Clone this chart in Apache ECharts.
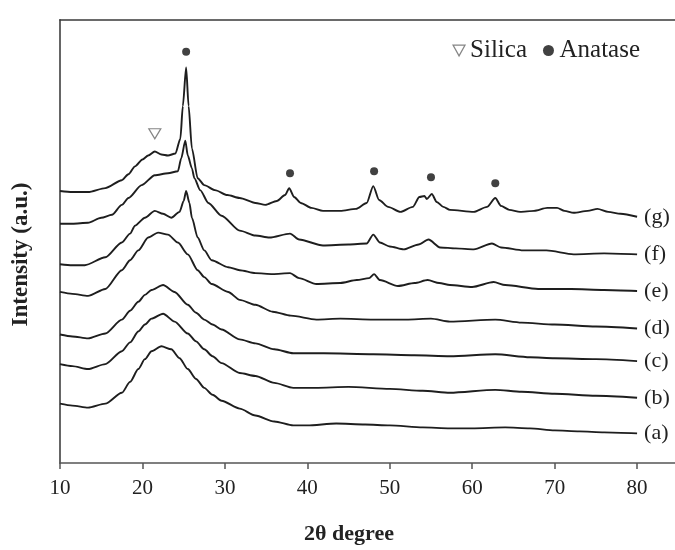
<!DOCTYPE html>
<html>
<head>
<meta charset="utf-8">
<script src="https://cdn.jsdelivr.net/npm/echarts@6/dist/echarts.min.js"></script>
<style>
html,body{margin:0;padding:0;background:#fff;overflow:hidden;}
#chart{width:675px;height:550px;}
</style>
</head>
<body>
<div id="chart"></div>
<script>
// 2θ (degree) vs intensity (a.u.)
const curveA = [[10,60],[11.5,58],[13.4,56],[15.5,60],[17.5,71],[18.5,82],[19.5,95],[20.3,105],[21.1,113],[22.3,118],[23.5,115],[24.5,106],[25.5,95],[26.5,85],[27.5,76],[28.5,69],[29.6,63],[31.8,55],[33.7,48],[36,42],[38.3,38],[40,38],[43.5,40],[47,39],[50,38],[54,36],[57.3,35],[60,35],[64,36],[67,35],[70,33],[73,32],[76,31],[80,30]];
const curveB = [[10,100],[11.5,98],[13.4,95],[15.5,100],[17.5,113],[18.5,122],[19.5,133],[20.3,140],[21.1,146],[22.5,151],[23.9,143],[25.5,131],[26.5,123],[27.5,115],[28.5,108],[29.6,101],[31.8,91],[33.7,88],[36,81],[38.3,76],[41,76],[45,77],[50,75],[54,73],[57.3,71],[62.8,74],[66,72],[70,70],[75,68],[80,66]];
const curveC = [[10,130],[11.5,128],[13.4,126],[15.5,131],[17.5,145],[18.5,154],[19.5,163],[20.3,170],[21.1,175],[22.5,180],[23.9,173],[25.5,160],[26.5,152],[27.5,145],[28.5,140],[29.6,135],[31.8,125],[33.7,121],[36,115],[38.3,111],[42,111],[48,110],[53,109],[57.3,108],[62.8,110],[67,107],[70,106],[75,105],[80,103]];
const curveD = [[10,173],[11.5,171],[13.4,169],[15.5,176],[17.5,195],[18.5,205],[19.5,215],[20.7,228],[21.9,233],[23.1,231],[24.3,223],[25.5,211],[26.7,195],[27.5,188],[28.4,181],[30.4,173],[31.8,165],[33.7,160],[35.8,153],[38,149],[41.1,145],[44,146],[48,145],[52,145],[55,146],[57.3,143],[62.8,145],[66,142],[70,140],[75,138],[80,136]];
const curveE = [[10,201],[11.5,200],[13,200],[15.5,208],[17.5,223],[18.5,232],[19.1,240],[20.3,248],[21.5,255],[22.5,252],[23.5,248],[24.5,254],[25,265],[25.3,275],[25.7,263],[26,248],[26.7,228],[27.5,215],[28.4,205],[30.4,198],[31.8,195],[33.7,192],[35.8,191],[37.9,192],[39,187],[41.1,181],[44,182],[46,185],[47.5,187],[48.1,191],[48.8,185],[51,179],[53,182],[54.6,185],[56,182],[57.3,180],[60,178],[62.6,183],[64,180],[68,176],[72,176],[76,175],[80,174]];
const curveF = [[10,242],[11.5,242],[13.4,243],[15,248],[16.3,251],[17.5,261],[18.3,268],[19.9,281],[21.5,291],[23.1,293],[24.3,295],[24.7,308],[25.2,326],[25.5,311],[26,298],[26.3,288],[27,276],[28,263],[29.6,250],[31.8,235],[33.7,230],[35.4,228],[37.9,232],[39,226],[41.9,220],[45,221],[47.2,222],[48,231],[48.8,223],[50,219],[51.7,216],[53.5,221],[54.7,226],[56.1,218],[58,217],[60.2,216],[62.4,222],[63.5,218],[66.2,215],[69,215],[72.3,211],[76,212],[80,211]];
const curveG = [[10,275],[11.5,274],[13.4,274],[15.5,278],[17.5,286],[18.3,292],[19.1,300],[20,307],[20.7,311],[21.5,315],[22.3,312],[23.1,311],[24,313],[24.6,328],[24.9,361],[25.3,400],[25.6,361],[26,318],[26.7,288],[27.5,281],[28.8,276],[30.3,271],[31.8,268],[33.7,263],[34.9,261],[36.3,265],[37.3,271],[37.8,278],[38.4,269],[39.2,263],[40.5,258],[41.9,255],[44,255],[45.9,257],[47.2,263],[48,280],[48.7,266],[49.8,259],[51.3,254],[52.8,259],[53.6,269],[54.2,270],[54.5,267],[55.1,272],[55.7,264],[56.5,259],[57.3,256],[60.2,254],[61.8,259],[62.8,268],[63.5,260],[64.5,256],[65.8,254],[67.5,255],[69.1,258],[70.3,258],[71.2,255],[72.3,253],[74,255],[75.2,257],[76.5,254],[78,252],[80,249]];
const curveNames = ['(a)','(b)','(c)','(d)','(e)','(f)','(g)'];
const silicaMarks = [[21.5,333]];
const anataseMarks = [[25.3,416],[37.9,293],[48.1,295],[55.0,289],[62.8,283]];
const xTicks = [10,20,30,40,50,60,70,80];

const curves = [curveA, curveB, curveC, curveD, curveE, curveF, curveG];
const serif = '"Liberation Serif","DejaVu Serif",serif';

const lineSeries = curves.map((c, i) => ({
  type: 'line',
  name: curveNames[i],
  data: c,
  showSymbol: false,
  symbol: 'none',
  smooth: 0.25,
  smoothMonotone: 'x',
  lineStyle: { color: '#1e1e1e', width: 1.9 },
  silent: true,
  z: 2,
  endLabel: {
    show: true,
    formatter: curveNames[i],
    distance: 7,
    fontFamily: serif,
    fontSize: 22,
    color: '#222'
  }
}));

const chart = echarts.init(document.getElementById('chart'), null, { renderer: 'canvas' });
chart.setOption({
  animation: false,
  backgroundColor: '#fff',
  grid: { left: 60, right: 0, top: 20, bottom: 82 },
  legend: {
    right: 30, top: 33,
    itemGap: 16, itemWidth: 12, itemHeight: 11,
    textStyle: { fontFamily: serif, fontSize: 25, color: '#222' },
    data: [
      { name: 'Silica', icon: 'path://M0,0 L10,0 L5,9 Z', itemStyle: { color: '#fff', borderColor: '#666', borderWidth: 1.2 } },
      { name: 'Anatase', icon: 'circle', itemStyle: { color: '#111' } }
    ]
  },
  xAxis: [
    {
      type: 'value', min: 10, max: 84.6, interval: 10,
      name: '2θ degree', nameLocation: 'middle', nameGap: 60,
      nameTextStyle: { fontFamily: serif, fontSize: 22, fontWeight: 'bold', color: '#222', padding: [0, 37, 0, 0] },
      axisLine: { show: true, lineStyle: { color: '#555', width: 1.5 } },
      axisTick: { show: true, inside: false, length: 6, customValues: xTicks, lineStyle: { color: '#555', width: 1.5 } },
      axisLabel: {
        margin: 15, fontFamily: serif, fontSize: 21, color: '#222', customValues: xTicks,
        formatter: v => (xTicks.indexOf(v) >= 0 ? String(v) : '')
      },
      splitLine: { show: false }
    },
    {
      type: 'value', position: 'top', min: 10, max: 84.6,
      axisLine: { show: true, lineStyle: { color: '#3a3a3a', width: 1.6 } },
      axisTick: { show: false }, axisLabel: { show: false }, splitLine: { show: false }
    }
  ],
  yAxis: {
    type: 'value', min: 0, max: 448,
    name: 'Intensity (a.u.)', nameLocation: 'middle', nameGap: 27, nameRotate: 90,
    nameTextStyle: { fontFamily: serif, fontSize: 23, fontWeight: 'bold', color: '#222', padding: [0, 26, 0, 0] },
    axisLine: { show: true, lineStyle: { color: '#555', width: 1.8 } },
    axisTick: { show: false },
    axisLabel: { show: false },
    splitLine: { show: false }
  },
  series: lineSeries.concat([
    {
      type: 'scatter', name: 'Silica', data: silicaMarks,
      symbol: 'triangle', symbolRotate: 180, symbolSize: [12, 10],
      itemStyle: { color: '#fff', borderColor: '#666', borderWidth: 1.2 }, z: 5
    },
    {
      type: 'scatter', name: 'Anatase', data: anataseMarks,
      symbol: 'circle', symbolSize: 8,
      itemStyle: { color: '#111' }, z: 5
    }
  ])
});
</script>
</body>
</html>
